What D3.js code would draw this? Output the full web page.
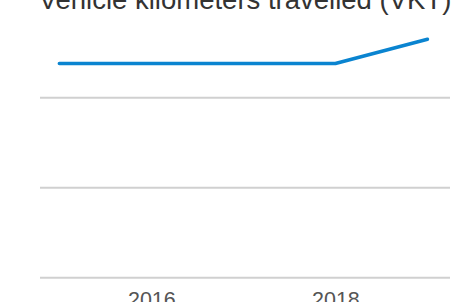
<!DOCTYPE html>
<html>
<head>
<meta charset="utf-8">
<script src="https://cdn.jsdelivr.net/npm/d3@7"></script>
<style>
  body { margin: 0; background: #fff; }
  svg { display: block; }
</style>
</head>
<body>
<svg id="chart"></svg>
<script>
const years = [2015, 2016, 2017, 2018, 2019];
const vkt = [2.38, 2.38, 2.38, 2.38, 2.65];
const yTicks = [0, 1, 2];
const xTickLabels = [2016, 2018];
const title = "Vehicle kilometers travelled (VKT)";

const width = 455, height = 302;
const margin = { top: 8, right: 5, bottom: 24, left: 40 };

const svg = d3.select("#chart")
  .attr("width", width)
  .attr("height", height);

const x = d3.scaleLinear()
  .domain([2014.79, 2019.245])
  .range([margin.left, width - margin.right]);

const y = d3.scaleLinear()
  .domain([0, 3])
  .range([277.7, 277.7 - 3 * 90]);

// gridlines
svg.append("g")
  .selectAll("line")
  .data(yTicks)
  .join("line")
  .attr("x1", margin.left)
  .attr("x2", width - margin.right)
  .attr("y1", d => y(d))
  .attr("y2", d => y(d))
  .attr("stroke", "#d0d0d0")
  .attr("stroke-width", 2);

// x axis labels
const xAxis = svg.append("g")
  .attr("transform", `translate(0,${y(0)})`)
  .call(d3.axisBottom(x).tickValues(xTickLabels).tickFormat(d3.format("d")).tickSize(0).tickPadding(14));
xAxis.select(".domain").remove();
xAxis.selectAll("text")
  .attr("font-family", "Liberation Sans, Arial, sans-serif")
  .attr("font-size", 21.5)
  .attr("fill", "#555");

const line = d3.line()
  .x((d, i) => x(years[i]))
  .y(d => y(d));

svg.append("path")
  .datum(vkt)
  .attr("fill", "none")
  .attr("stroke", "#0a84d0")
  .attr("stroke-width", 3.5)
  .attr("stroke-linecap", "round")
  .attr("stroke-linejoin", "round")
  .attr("d", line);

svg.append("text")
  .attr("x", (margin.left + width - margin.right) / 2)
  .attr("y", 9)
  .attr("text-anchor", "middle")
  .attr("font-family", "Liberation Sans, Arial, sans-serif")
  .attr("font-size", 27.5)
  .attr("fill", "#333")
  .text(title);
</script>
</body>
</html>
